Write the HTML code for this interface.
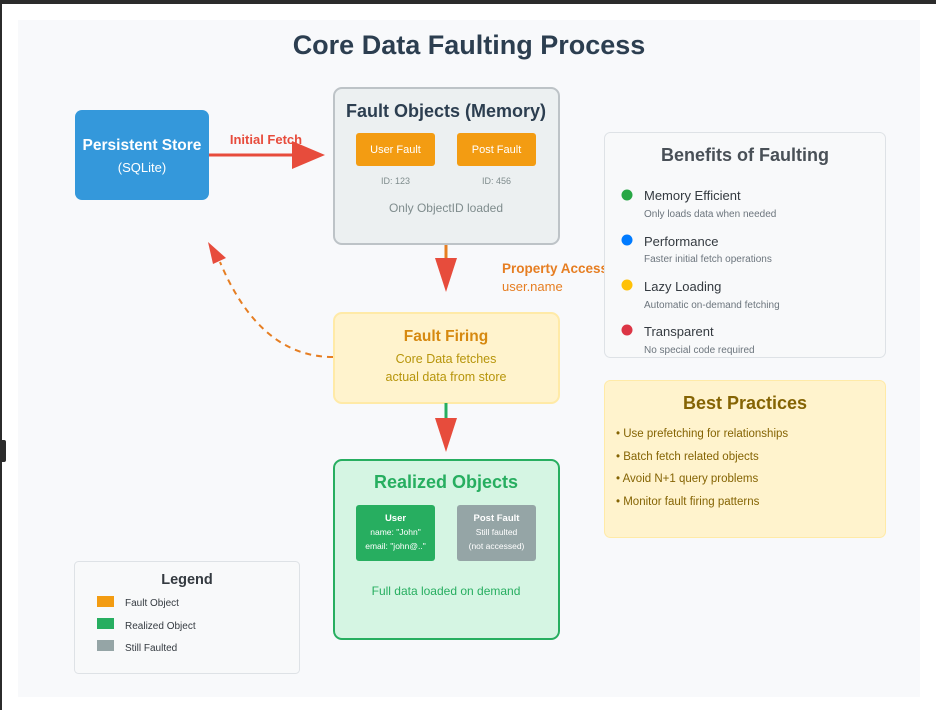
<!DOCTYPE html>
<html><head><meta charset="utf-8"><style>
html,body{margin:0;padding:0;background:#fff;width:936px;height:710px;overflow:hidden}
svg{display:block;font-family:"Liberation Sans",Arial,sans-serif}
</style></head><body>
<svg width="936" height="710" viewBox="0 0 936 710" xmlns="http://www.w3.org/2000/svg">
<rect x="0" y="0" width="936" height="710" fill="#fff"/>
<rect x="0" y="0" width="936" height="4" fill="#2b2b2b"/>
<rect x="0" y="0" width="2" height="710" fill="#2b2b2b"/>
<rect x="0" y="440" width="6" height="22" rx="2" fill="#2b2b2b"/>
<rect x="18" y="20" width="902" height="677" fill="#f8f9fb"/>
<text x="469" y="54" text-anchor="middle" font-size="27" font-weight="bold" fill="#2c3e50">Core Data Faulting Process</text>

<rect x="75" y="110" width="134" height="90" rx="7" fill="#3498db"/>
<text x="142" y="150" text-anchor="middle" font-size="15.5" font-weight="bold" fill="#fff">Persistent Store</text>
<text x="142" y="172" text-anchor="middle" font-size="13" fill="#fff">(SQLite)</text>

<line x1="209" y1="155" x2="295" y2="155" stroke="#e74c3c" stroke-width="3"/>
<polygon points="292,141 325,155 292,169" fill="#e74c3c"/>
<text x="266" y="144" text-anchor="middle" font-size="13" font-weight="bold" fill="#e74c3c">Initial Fetch</text>

<rect x="334" y="88" width="225" height="156" rx="8" fill="#ecf0f1" stroke="#bdc3c7" stroke-width="2"/>
<text x="446" y="117" text-anchor="middle" font-size="18" font-weight="bold" fill="#2c3e50">Fault Objects (Memory)</text>
<rect x="356" y="133" width="79" height="33" rx="3" fill="#f39c12"/>
<rect x="457" y="133" width="79" height="33" rx="3" fill="#f39c12"/>
<text x="395.5" y="153" text-anchor="middle" font-size="11" fill="#fff">User Fault</text>
<text x="496.5" y="153" text-anchor="middle" font-size="11" fill="#fff">Post Fault</text>
<text x="395.5" y="184" text-anchor="middle" font-size="9" fill="#7f8c8d">ID: 123</text>
<text x="496.5" y="184" text-anchor="middle" font-size="9" fill="#7f8c8d">ID: 456</text>
<text x="446" y="212" text-anchor="middle" font-size="12" fill="#7f8c8d">Only ObjectID loaded</text>

<line x1="446" y1="245" x2="446" y2="262" stroke="#e67e22" stroke-width="3"/>
<polygon points="435,258 457,258 446,292" fill="#e74c3c"/>
<text x="502" y="273" font-size="13.5" font-weight="bold" fill="#e67e22">Property Access</text>
<text x="502" y="291" font-size="13" fill="#e67e22">user.name</text>

<rect x="334" y="313" width="225" height="90" rx="8" fill="#fff3cd" stroke="#ffeaa7" stroke-width="2"/>
<text x="446" y="341" text-anchor="middle" font-size="15.5" font-weight="bold" fill="#d68910">Fault Firing</text>
<text x="446" y="363" text-anchor="middle" font-size="12.5" fill="#b7950b">Core Data fetches</text>
<text x="446" y="381" text-anchor="middle" font-size="12.5" fill="#b7950b">actual data from store</text>

<path d="M333,357 Q 260,357 220,262" fill="none" stroke="#e67e22" stroke-width="2" stroke-dasharray="6,5"/>
<polygon points="208,242 226,258 213,264" fill="#e74c3c"/>

<line x1="446" y1="403" x2="446" y2="422" stroke="#27ae60" stroke-width="3"/>
<polygon points="435,418 457,418 446,452" fill="#e74c3c"/>

<rect x="334" y="460" width="225" height="179" rx="8" fill="#d5f5e3" stroke="#27ae60" stroke-width="2"/>
<text x="446" y="488" text-anchor="middle" font-size="18" font-weight="bold" fill="#27ae60">Realized Objects</text>
<rect x="356" y="505" width="79" height="56" rx="3" fill="#27ae60"/>
<rect x="457" y="505" width="79" height="56" rx="3" fill="#95a5a6"/>
<text x="395.5" y="521" text-anchor="middle" font-size="9.5" font-weight="bold" fill="#fff">User</text>
<text x="395.5" y="535" text-anchor="middle" font-size="8.5" fill="#fff">name: "John"</text>
<text x="395.5" y="549" text-anchor="middle" font-size="8.5" fill="#fff">email: "john@.."</text>
<text x="496.5" y="521" text-anchor="middle" font-size="9.5" font-weight="bold" fill="#fff">Post Fault</text>
<text x="496.5" y="535" text-anchor="middle" font-size="8.5" fill="#fff">Still faulted</text>
<text x="496.5" y="549" text-anchor="middle" font-size="8.5" fill="#fff">(not accessed)</text>
<text x="446" y="595" text-anchor="middle" font-size="12" fill="#27ae60">Full data loaded on demand</text>

<rect x="604.5" y="132.5" width="281" height="225" rx="6" fill="#f8f9fa" stroke="#dee2e6"/>
<text x="745" y="161" text-anchor="middle" font-size="18" font-weight="bold" fill="#495057">Benefits of Faulting</text>
<circle cx="627" cy="195" r="5.5" fill="#28a745"/>
<circle cx="627" cy="240" r="5.5" fill="#007bff"/>
<circle cx="627" cy="285" r="5.5" fill="#ffc107"/>
<circle cx="627" cy="330" r="5.5" fill="#dc3545"/>
<g font-size="13" fill="#343a40">
<text x="644" y="200">Memory Efficient</text>
<text x="644" y="246">Performance</text>
<text x="644" y="291">Lazy Loading</text>
<text x="644" y="336">Transparent</text>
</g>
<g font-size="10" fill="#6c757d">
<text x="644" y="217">Only loads data when needed</text>
<text x="644" y="262">Faster initial fetch operations</text>
<text x="644" y="308">Automatic on-demand fetching</text>
<text x="644" y="353">No special code required</text>
</g>

<rect x="604.5" y="380.5" width="281" height="157" rx="6" fill="#fff3cd" stroke="#ffeaa7"/>
<text x="745" y="409" text-anchor="middle" font-size="18" font-weight="bold" fill="#856404">Best Practices</text>
<g font-size="11.5" fill="#856404">
<text x="616" y="437">• Use prefetching for relationships</text>
<text x="616" y="460">• Batch fetch related objects</text>
<text x="616" y="482">• Avoid N+1 query problems</text>
<text x="616" y="505">• Monitor fault firing patterns</text>
</g>

<rect x="74.5" y="561.5" width="225" height="112" rx="4" fill="#f8f9fa" stroke="#dee2e6"/>
<text x="187" y="584" text-anchor="middle" font-size="14.5" font-weight="bold" fill="#343a40">Legend</text>
<rect x="97" y="596" width="17" height="11" fill="#f39c12"/>
<rect x="97" y="618" width="17" height="11" fill="#27ae60"/>
<rect x="97" y="640" width="17" height="11" fill="#95a5a6"/>
<g font-size="10" fill="#343a40">
<text x="125" y="606">Fault Object</text>
<text x="125" y="629">Realized Object</text>
<text x="125" y="651">Still Faulted</text>
</g>
</svg>
</body></html>
